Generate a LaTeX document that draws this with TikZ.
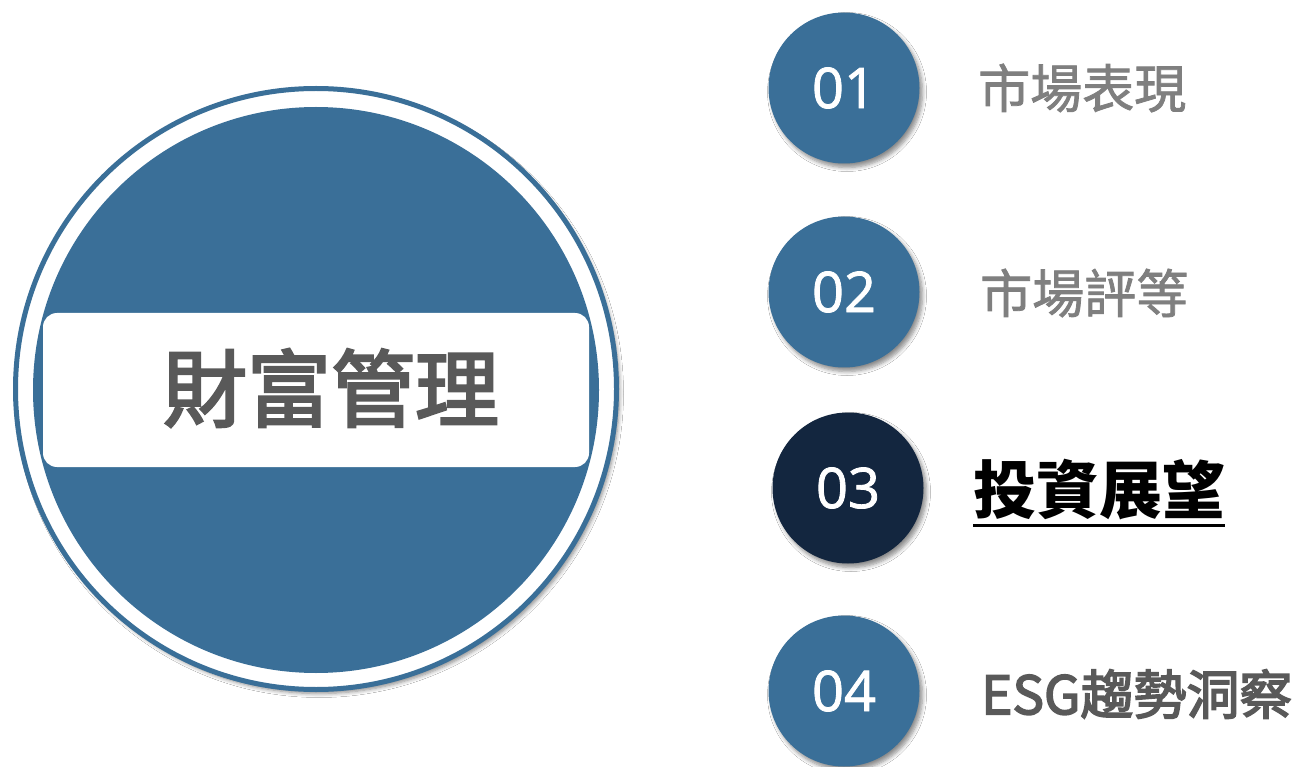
\documentclass[tikz,border=0pt]{standalone}
\usepackage{fontspec}
\setmainfont{Open Sans}
\newfontfamily\numf{Open Sans}[FakeBold=1.5]
\newfontfamily\cjk{Noto Sans CJK TC}
\newfontfamily\cjkm{Noto Sans CJK TC}[FakeBold=1.5]
\newfontfamily\cjkmm{Noto Sans CJK TC}[FakeBold=3]
\usetikzlibrary{shadows.blur,backgrounds}
\definecolor{mblue}{HTML}{3A6F98}
\definecolor{navy}{HTML}{13263F}
\definecolor{lgray}{HTML}{7F7F7F}
\definecolor{dgray}{HTML}{595959}
\tikzset{
  shad/.style={blur shadow={shadow xshift=3pt, shadow yshift=-4pt, shadow blur radius=4pt, shadow blur steps=6, shadow opacity=45}},
  bigring/.style={circle, draw=mblue, line width=5pt, fill=white, minimum size=601pt, inner sep=0pt, shad},
  bigfill/.style={circle, fill=mblue, minimum size=566pt, inner sep=0pt},
  band/.style={rectangle, rounded corners=14pt, fill=white, minimum width=546pt, minimum height=154pt, inner sep=0pt},
  numc/.style={circle, fill=mblue, minimum size=151pt, inner sep=0pt, text=white, font=\numf\fontsize{56}{64}\selectfont, shad},
  conn/.style={mblue, line width=1.5pt},
  lab/.style={anchor=west, inner sep=0pt, font=\cjkm\fontsize{52}{60}\selectfont},
}
\begin{document}
\begin{tikzpicture}[x=1pt,y=-1pt]
\useasboundingbox[fill=white] (0,0) rectangle (1299,767);
\node[bigring] (big) at (316,389) {};
\node[bigfill] (bigin) at (316,390) {};
\node[band] (band) at (316,390) {};
\node[inner sep=0pt, text=dgray, font=\cjkmm\fontsize{84}{90}\selectfont] (title) at (331,388) {財富管理};
\node[numc] (c1) at (844,88) {01};
\node[numc] (c2) at (844,292) {02};
\node[numc, fill=navy] (c3) at (848,488) {03};
\node[numc] (c4) at (844,691) {04};
\begin{scope}[on background layer]
\draw[conn] (c1.center) -- (c1.center -| big.center);
\draw[conn] (c2.center) -- (c2.center -| big.center);
\draw[conn] (c3.center) -- (c3.center -| big.center);
\draw[conn] (c4.center) -- (c4.center -| big.center);
\end{scope}
\node[lab, text=lgray] (l1) at (978,88) {市場表現};
\node[lab, text=lgray] (l2) at (980,293) {市場評等};
\node[lab, text=black, font=\cjk\bfseries\fontsize{63}{70}\selectfont] (l3) at (973,490) {投資展望};
\draw[line width=3pt] ([yshift=-5pt]l3.south west) -- ([yshift=-5pt]l3.south east);
\node[lab, text=dgray, font=\cjkmm\fontsize{53}{60}\selectfont] (l4) at (981,694) {ESG趨勢洞察};
\end{tikzpicture}
\end{document}
